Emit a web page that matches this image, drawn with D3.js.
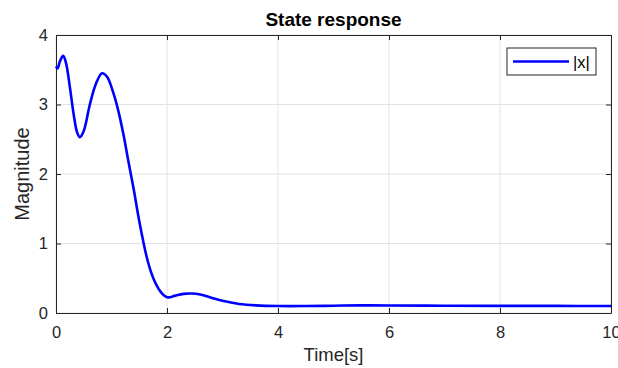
<!DOCTYPE html>
<html><head><meta charset="utf-8">
<script src="https://cdn.jsdelivr.net/npm/d3@7"></script>
<style>body{margin:0;background:#fff}svg{display:block}</style>
</head><body>
<svg id="c" width="618" height="368"></svg>
<script>
const timeValues = [0,0.03,0.07,0.13,0.18,0.25,0.32,0.38,0.43,0.50,0.61,0.72,0.83,0.92,1.02,1.12,1.22,1.30,1.40,1.51,1.63,1.72,1.81,1.90,1.97,2.03,2.15,2.30,2.45,2.60,2.80,3.00,3.30,3.60,4.00,4.50,5.00,5.50,6.00,7.00,8.00,9.00,10.0];
const magValues = [3.55,3.52,3.62,3.70,3.60,3.25,2.85,2.60,2.53,2.62,3.00,3.30,3.45,3.40,3.20,2.92,2.55,2.20,1.78,1.28,0.82,0.57,0.40,0.29,0.24,0.225,0.25,0.275,0.28,0.265,0.22,0.175,0.13,0.11,0.10,0.10,0.105,0.11,0.108,0.105,0.103,0.102,0.10];
const xTicks = [0,2,4,6,8,10];
const yTicks = [0,1,2,3,4];
const seriesName = "|x|";

const svg = d3.select("#c");
const L=56, R=611, T=35, B=313;
const x = d3.scaleLinear().domain([0,10]).range([L,R]);
const y = d3.scaleLinear().domain([0,4]).range([B,T]);
const font = "Arial, 'Liberation Sans', Helvetica, sans-serif";
const axisCol = "#262626";

// grid
svg.append("g").selectAll("line").data(xTicks).join("line")
  .attr("x1",d=>x(d)).attr("x2",d=>x(d)).attr("y1",T).attr("y2",B)
  .attr("stroke","#e3e3e3").attr("stroke-width",1);
svg.append("g").selectAll("line").data(yTicks).join("line")
  .attr("x1",L).attr("x2",R).attr("y1",d=>y(d)).attr("y2",d=>y(d))
  .attr("stroke","#e3e3e3").attr("stroke-width",1);

// axes
const gx = svg.append("g").attr("transform",`translate(0,${B})`)
  .call(d3.axisBottom(x).tickValues(xTicks).tickFormat(d3.format("d")).tickSizeInner(-5).tickSizeOuter(0).tickPadding(13));
const gy = svg.append("g").attr("transform",`translate(${L},0)`)
  .call(d3.axisLeft(y).tickValues(yTicks).tickFormat(d3.format("d")).tickSizeInner(-5).tickSizeOuter(0).tickPadding(8));
const gxt = svg.append("g").attr("transform",`translate(0,${T})`)
  .call(d3.axisTop(x).tickValues(xTicks).tickSizeInner(-5).tickSizeOuter(0).tickFormat(""));
const gyr = svg.append("g").attr("transform",`translate(${R},0)`)
  .call(d3.axisRight(y).tickValues(yTicks).tickSizeInner(-5).tickSizeOuter(0).tickFormat(""));
[gx,gy,gxt,gyr].forEach(g=>{
  g.selectAll("path").attr("stroke",axisCol);
  g.selectAll("line").attr("stroke",axisCol);
  g.selectAll("text").attr("fill",axisCol).style("font-family",font).style("font-size","16.5px");
});

// line
const line = d3.line().x((d,i)=>x(timeValues[i])).y(d=>y(d)).curve(d3.curveCatmullRom.alpha(0.5));
svg.append("path").datum(magValues).attr("d",line)
  .attr("fill","none").attr("stroke","#0000ff").attr("stroke-width",2.6);

// title & labels
svg.append("text").attr("x",(L+R)/2).attr("y",26).attr("text-anchor","middle")
  .style("font-family",font).style("font-size","19px").style("font-weight","bold").attr("fill","#000")
  .text("State response");
svg.append("text").attr("x",(L+R)/2).attr("y",361).attr("text-anchor","middle")
  .style("font-family",font).style("font-size","18.5px").attr("fill",axisCol).text("Time[s]");
svg.append("text").attr("transform",`translate(29,${(T+B)/2}) rotate(-90)`).attr("text-anchor","middle")
  .style("font-family",font).style("font-size","20px").attr("fill",axisCol).text("Magnitude");

// legend
const lg = svg.append("g");
lg.append("rect").attr("x",507).attr("y",48).attr("width",89).attr("height",27)
  .attr("fill","#fff").attr("stroke","#262626").attr("stroke-width",1);
lg.append("line").attr("x1",513).attr("x2",569).attr("y1",61.5).attr("y2",61.5)
  .attr("stroke","#0000ff").attr("stroke-width",2.6);
lg.append("text").attr("x",573).attr("y",67.5).style("font-family",font).style("font-size","16.5px")
  .attr("fill","#000").text(seriesName);
</script>
</body></html>
